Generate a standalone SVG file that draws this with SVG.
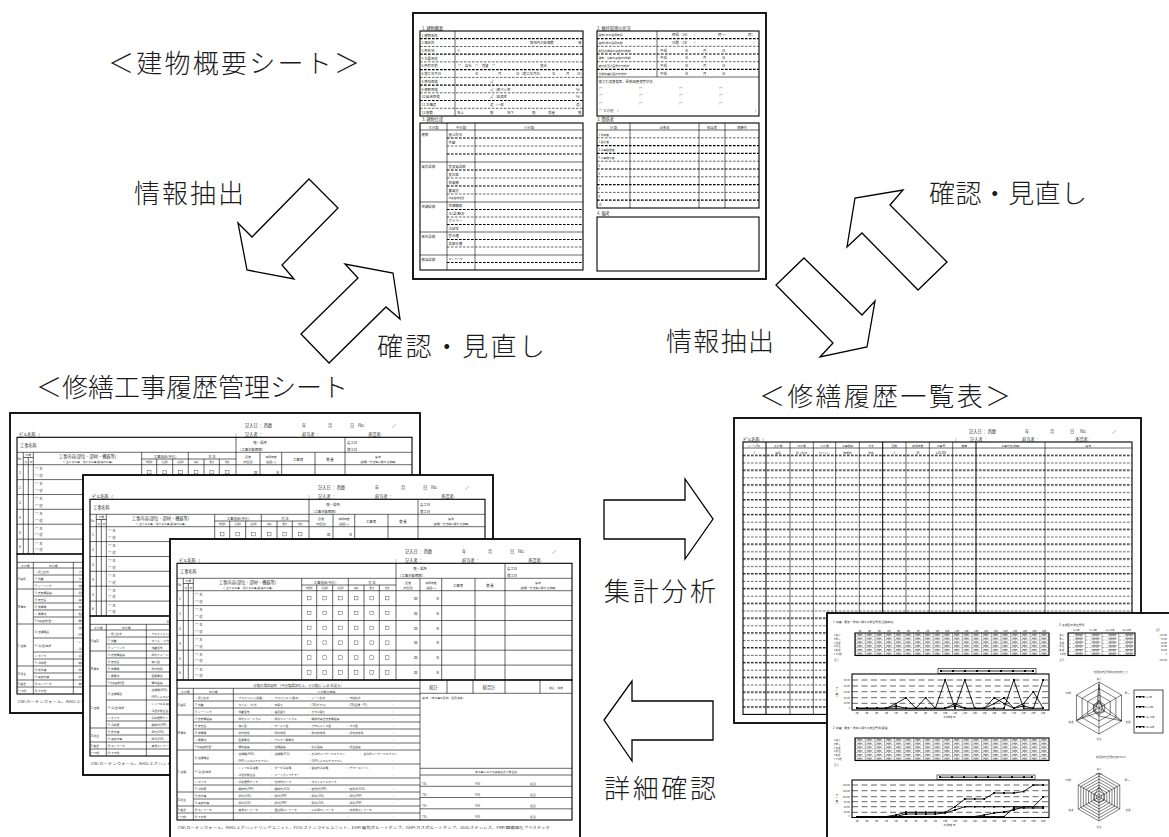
<svg xmlns="http://www.w3.org/2000/svg" width="1169" height="837" viewBox="0 0 1169 837">
<style>
.lbl{font-family:"Noto Sans CJK JP","Noto Sans",sans-serif;font-size:26px;font-weight:300;fill:#1a1a1a}
.t{font-family:"Noto Sans CJK JP","Noto Sans",sans-serif;font-size:4.2px;fill:#333}
.s{font-size:3.4px}
.xs{font-size:2.8px}
.xxs{font-size:2.1px}
.c{text-anchor:middle}
.e{text-anchor:end}
.fr{fill:#fff;stroke:#000;stroke-width:1.8}
.bx{fill:none;stroke:#000;stroke-width:1.1}
.ln{fill:none;stroke:#000;stroke-width:0.6}
.lk{fill:none;stroke:#000;stroke-width:1}
.d1{fill:none;stroke:#000;stroke-width:0.6;stroke-dasharray:2.6 1.4}
.d2{fill:none;stroke:#000;stroke-width:1.2;stroke-dasharray:2.6 1.4}
.gd{fill:none;stroke:#000;stroke-width:0.6;stroke-dasharray:6 3.5}
.arrow{fill:#fff;stroke:#000;stroke-width:1.3}
.cb{fill:none;stroke:#333;stroke-width:0.4}
.ser{fill:none;stroke:#000;stroke-width:0.9;marker-start:url(#mk);marker-mid:url(#mk);marker-end:url(#mk)}
.rd{fill:none;stroke:#000;stroke-width:0.5}
</style>
<defs>
<marker id="mk" markerUnits="userSpaceOnUse" markerWidth="2" markerHeight="2" refX="1" refY="1"><rect width="2" height="2" fill="#000"/></marker>
<pattern id="pRows" patternUnits="userSpaceOnUse" x="743" y="451.7" width="4" height="14.8"><rect x="0" y="3.1" width="2.6" height="1.2"/><rect x="0" y="10.8" width="2.6" height="0.6"/></pattern>
<pattern id="pCell" patternUnits="userSpaceOnUse" x="855" y="633" width="9.7" height="3.75"><rect x="0" y="0" width="0.35" height="3.75"/><rect x="0.9" y="3.45" width="1.8" height="0.5"/><rect x="3.9" y="3.45" width="1.8" height="0.5"/><rect x="6.9" y="3.45" width="1.8" height="0.5"/><rect x="2.2" y="1.2" width="5" height="1.1" fill="#555"/></pattern>
<pattern id="pCell3" patternUnits="userSpaceOnUse" x="1068" y="633" width="16.75" height="3.75"><rect x="0" y="0" width="0.35" height="3.75"/><rect x="1" y="3.45" width="2" height="0.5"/><rect x="4.5" y="3.45" width="2" height="0.5"/><rect x="8" y="3.45" width="2" height="0.5"/><rect x="11.5" y="3.45" width="2" height="0.5"/><rect x="7" y="1.2" width="8" height="1.1" fill="#555"/></pattern>
<g id="rr">
<text class="t s" x="25" y="5.8">□ 主</text>
<text class="t s" x="25" y="12.3">□ 従</text>
<rect class="cb" x="137.4" y="5.6" width="3.6" height="3.6"/>
<rect class="cb" x="152.9" y="5.6" width="3.6" height="3.6"/>
<rect class="cb" x="168.7" y="5.6" width="3.6" height="3.6"/>
<rect class="cb" x="184.4" y="5.6" width="3.6" height="3.6"/>
<rect class="cb" x="199.9" y="5.6" width="3.6" height="3.6"/>
<rect class="cb" x="215.4" y="5.6" width="3.6" height="3.6"/>
<text class="t s" y="9"><tspan x="244">回</tspan><tspan x="266">年</tspan></text>
</g>
<g id="rs">
<rect class="fr" x="0" y="0" width="410" height="300"/>
<text class="t" y="13.5"><tspan x="235">記入日 ： 西暦</tspan><tspan x="292">年</tspan><tspan x="318">月</tspan><tspan x="340">日</tspan><tspan x="348">No.</tspan><tspan x="382">／</tspan></text>
<text class="t" y="22.5"><tspan x="9">ビル名称（</tspan><tspan x="225">）</tspan><tspan x="235">記入者 ：</tspan><tspan x="292">担当者 ：</tspan><tspan x="358">承認者:</tspan></text>
<rect class="bx" x="7" y="24.3" width="395" height="116.7"/>
<path class="ln" d="M7 39.3H402M7 51.7H402M226 24.3V141M335 24.3V141M13.3 39.3V141M18.3 44.5V141M23.3 39.3V141M131.7 39.3V141M178.3 39.3V141M250 39.3V141M271.7 39.3V141M305 39.3V141M146.7 46V141M162.7 46V141M194 46V141M209.3 46V141M13.3 44.5H23.3M131.7 46H226M7 66.6H402M7 81.5H402M7 96.3H402M7 111.2H402M7 126.1H402"/>
<text class="t" x="10" y="33.5">工事名称</text>
<text class="t s c" x="250" y="30.5">階・場所</text>
<text class="t s" x="228" y="37.5">（工事対象範囲）</text>
<text class="t s" x="337" y="30.5">着工日</text>
<text class="t s" x="337" y="37.5">竣工日</text>
<text class="t xs" x="7.6" y="47">No.</text>
<text class="t xs c" x="18.3" y="43.3">分類</text>
<text class="t xs c" y="50.3"><tspan x="15.8">大</tspan><tspan x="20.8">中</tspan></text>
<text class="t c" x="77.5" y="44.5">工事内容(部位・部材・機器等)</text>
<text class="t xs c" x="77.5" y="49.8">※ 主たる工事／従たる工事(是連れ工事)</text>
<text class="t s c" x="155" y="44.6">工事理由(劣化)</text>
<text class="t xxs c" y="50.3"><tspan x="139.2">物理的</tspan><tspan x="154.7">社会的</tspan><tspan x="170.5">複合的</tspan><tspan x="186.2">修繕</tspan><tspan x="201.7">更新</tspan><tspan x="217.2">改修</tspan></text>
<text class="t s c" x="202" y="44.6">方 法</text>
<text class="t xs c" y="44.5"><tspan x="238">回 数</tspan><tspan x="261">使用年数</tspan><tspan x="368">備 考</tspan></text>
<text class="t xs c" y="50"><tspan x="238">(何回目)</tspan><tspan x="261">(設置～)</tspan><tspan x="368">(動機・方法等に関する詳細)</tspan></text>
<text class="t s c" y="47.5"><tspan x="288">工事費</tspan><tspan x="320">数 量</tspan></text>
<use href="#rr" y="51.7"/><use href="#rr" y="66.6"/><use href="#rr" y="81.5"/><use href="#rr" y="96.3"/><use href="#rr" y="111.2"/><use href="#rr" y="126.1"/>
<text class="t s"><tspan x="9" y="61">1</tspan><tspan x="9" y="75.9">2</tspan><tspan x="9" y="90.8">3</tspan><tspan x="9" y="105.6">4</tspan><tspan x="9" y="120.5">5</tspan><tspan x="9" y="135.4">6</tspan></text>
<rect class="bx" x="7" y="141" width="395" height="140"/>
<path class="ln" d="M7 149.3H250M7 155H250M250 141V281M23.3 149.3V281M63.3 149.3V281M7 176H250M7 211H250M7 253H250M7 267H250M7 274H250M23.3 162H250M23.3 169H250M23.3 183H250M23.3 190H250M23.3 197H250M23.3 204H250M23.3 225H250M23.3 239H250M23.3 246H250M23.3 260H250M277 141V154.3M303 141V154.3M335 141V154.3M370 141V154.3M250 154.3H402M250 229.3H402M250 236H402M250 247.3H402M250 258.5H402M250 269.8H402"/>
<text class="t s c" x="128.5" y="147.6">分類の選択項目 （中分類選択の上、小分類に レ点 を記入）</text>
<text class="t xs c" y="153.8"><tspan x="15.3">大分類</tspan><tspan x="43.3">中分類</tspan><tspan x="156.7">小分類(仕様等)</tspan></text>
<text class="t c" y="150.3"><tspan x="263.5">総計</tspan><tspan x="319">総合計</tspan></text>
<text class="t xs c" x="386" y="149.5">税込／税抜</text>
<text class="t xs" x="252" y="159.5">備 考 （本工事の目的、留意点等）</text>
<text class="t xs c" x="326" y="234.3">本工事における連絡先及び発注先</text>
<text class="t xs"><tspan x="252" y="245.5">TEL:</tspan><tspan x="305" y="245.5">FAX:</tspan><tspan x="360" y="245.5">担当:</tspan><tspan x="252" y="256.8">TEL:</tspan><tspan x="305" y="256.8">FAX:</tspan><tspan x="360" y="256.8">担当:</tspan><tspan x="252" y="268">TEL:</tspan><tspan x="305" y="268">FAX:</tspan><tspan x="360" y="268">担当:</tspan><tspan x="252" y="279.3">TEL:</tspan><tspan x="305" y="279.3">FAX:</tspan><tspan x="360" y="279.3">担当:</tspan></text>
<text class="t xs"><tspan x="8" y="167">A 建築</tspan><tspan x="8" y="195">B 電気</tspan><tspan x="8" y="233.5">C 空調</tspan><tspan x="8" y="261.5">D 衛生</tspan><tspan x="8" y="271.9">E 搬送</tspan><tspan x="8" y="278.9" font-size="2.2">F その他</tspan></text>
<text class="t xs"><tspan x="24.5" y="160.3">① 屋上防水</tspan><tspan x="24.5" y="167.3">② 外壁</tspan><tspan x="24.5" y="174.3">③ シーリング</tspan><tspan x="24.5" y="181.3">④ 受変電設備</tspan><tspan x="24.5" y="188.3">⑤ 変圧器</tspan><tspan x="24.5" y="195.3">⑥ 発電機</tspan><tspan x="24.5" y="202.3">⑦ 蓄電池</tspan><tspan x="24.5" y="209.3" font-size="2.3">⑧ 中央監視装置*</tspan><tspan x="24.5" y="219.8">⑨ 空調機器</tspan><tspan x="24.5" y="233.8">⑩ 冷(温)熱源</tspan><tspan x="24.5" y="244.3">⑪ ボイラ</tspan><tspan x="24.5" y="251.3">⑫ 冷却塔</tspan><tspan x="24.5" y="258.3">⑬ 受水槽</tspan><tspan x="24.5" y="265.3">⑭ 高架水槽</tspan><tspan x="24.5" y="272.3">⑮ エレベータ</tspan><tspan x="24.5" y="279.3">⑯ その他</tspan></text>
<g class="t xs">
<text y="160.3"><tspan x="65">□ アスファルト(保護)</tspan><tspan x="101">□ アスファルト(露出)</tspan><tspan x="138">□ シート防水</tspan><tspan x="176">□ 塗膜防水</tspan><tspan x="222">□</tspan></text>
<text y="167.3"><tspan x="65">□ タイル □ 吹付</tspan><tspan x="101">□ 石張り</tspan><tspan x="138">□ CW(ガラス)</tspan><tspan x="176">□ CW(金属・PC)</tspan><tspan x="222">□</tspan></text>
<text y="174.3"><tspan x="65">□ 外壁目地</tspan><tspan x="101">□ 建具廻り</tspan><tspan x="138">□ ガラス廻り</tspan><tspan x="222">□</tspan></text>
<text y="181.3"><tspan x="65">□ 屋内キュービクル</tspan><tspan x="101">□ 屋外キュービクル</tspan><tspan x="138">□ 開放式高圧受変電設備</tspan><tspan x="222">□</tspan></text>
<text y="188.3"><tspan x="65">□ 油入型</tspan><tspan x="101">□ モールド型</tspan><tspan x="138">□ アモルファス型</tspan><tspan x="176">□ ガス型</tspan><tspan x="222">□</tspan></text>
<text y="195.3"><tspan x="65">□ 屋内常用</tspan><tspan x="101">□ 屋外常用</tspan><tspan x="138">□ 屋内非常用</tspan><tspan x="176">□ 屋外非常用</tspan><tspan x="222">□</tspan></text>
<text y="202.3"><tspan x="65">□ 鉛蓄電池</tspan><tspan x="101">□ アルカリ蓄電池</tspan><tspan x="222">□</tspan></text>
<text y="209.3"><tspan x="65">□ 電気設備</tspan><tspan x="101">□ 空調設備</tspan><tspan x="138">□ 防災設備</tspan><tspan x="176">□ 衛生設備</tspan><tspan x="222">□</tspan></text>
<text y="216.3"><tspan x="65">□ 空調機(AHU)</tspan><tspan x="101">□ 空調機(FCU)</tspan><tspan x="138">□ 水冷式パッケージエアコン</tspan><tspan x="190">□ 空冷式パッケージエアコン</tspan></text>
<text y="223.3"><tspan x="65">□ EHPビルマルチエアコン</tspan><tspan x="138">□ GHPビルマルチエアコン</tspan><tspan x="222">□</tspan></text>
<text y="230.3"><tspan x="65">□ レシプロ冷凍機</tspan><tspan x="101">□ ターボ冷凍機</tspan><tspan x="138">□ 吸収式冷凍機</tspan><tspan x="176">□ チラーユニット</tspan><tspan x="222">□</tspan></text>
<text y="237.3"><tspan x="65">□ 冷温水発生器</tspan><tspan x="101">□ ヒートポンプチラー</tspan><tspan x="222">□</tspan></text>
<text y="244.3"><tspan x="65">□ 炉筒煙管ボイラ</tspan><tspan x="101">□ 貫流式ボイラ</tspan><tspan x="138">□ セクショナルボイラ</tspan></text>
<text y="251.3"><tspan x="65">□ 開放式(FRP)</tspan><tspan x="101">□ 開放式(SUS)</tspan><tspan x="138">□ 密閉式(FRP)</tspan><tspan x="176">□ 密閉式(SUS)</tspan><tspan x="222">□</tspan></text>
<text y="258.3"><tspan x="65">□ 屋内(SUS)</tspan><tspan x="101">□ 屋内(FRP)</tspan><tspan x="138">□ 屋外(SUS)</tspan><tspan x="176">□ 屋外(FRP)</tspan><tspan x="222">□</tspan></text>
<text y="265.3"><tspan x="65">□ 屋内(SUS)</tspan><tspan x="101">□ 屋内(FRP)</tspan><tspan x="138">□ 屋外(SUS)</tspan><tspan x="176">□ 屋外(FRP)</tspan><tspan x="222">□</tspan></text>
<text y="272.3"><tspan x="65">□ 乗用エレベータ</tspan><tspan x="101">□ 寝台用エレベータ</tspan><tspan x="138">□ 人荷用エレベータ</tspan><tspan x="176">□ 非常用エレベータ</tspan><tspan x="222">□</tspan></text>
<text y="279.3"><tspan x="65">□</tspan><tspan x="101">□</tspan><tspan x="138">□</tspan><tspan x="176">□</tspan><tspan x="222">□</tspan></text>
</g>
<text class="t s" x="8" y="290" textLength="372" lengthAdjust="spacingAndGlyphs">CW:カーテンウォール、AHU:エアハンドリングユニット、FCU:ファンコイルユニット、EHP:電気式ヒートポンプ、GHP:ガス式ヒートポンプ、SUS:ステンレス、FRP:繊維強化プラスチック</text>
</g>
</defs>

<rect width="1169" height="837" fill="#fff"/>

<!-- Building overview sheet -->
<g id="sheet-building-overview">
<text class="lbl" x="108" y="73" font-size="27" textLength="252" lengthAdjust="spacing">＜建物概要シート＞</text>
<rect class="fr" x="413" y="13" width="353" height="266" stroke-width="2"/>
<text class="t" x="422" y="29.5">1. 建物概要</text>
<rect class="bx" x="420" y="31" width="163" height="85"/>
<path class="ln" d="M455 31V116"/>
<path class="d2" d="M420 38.7H583M420 54.2H583M420 69.6H583M420 85.1H583M420 100.5H583"/>
<path class="d1" d="M420 46.5H583M420 61.9H583M420 77.4H583M420 92.8H583M420 108.3H583"/>
<text class="t s"><tspan x="421.5" y="36.5">1 建物名称</tspan><tspan x="421.5" y="44.2">2 棟名称</tspan><tspan x="421.5" y="52">3 所在地</tspan><tspan x="421.5" y="59.7">4 主要用途</tspan><tspan x="421.5" y="67.4">5 所有形態</tspan><tspan x="421.5" y="75.1">6 竣工年月日</tspan><tspan x="421.5" y="82.9">8 敷地面積</tspan><tspan x="421.5" y="90.6">9 建築面積</tspan><tspan x="421.5" y="98.3">10 延床面積</tspan><tspan x="421.5" y="106">11 主構造</tspan><tspan x="421.5" y="113.8">12 階数</tspan></text>
<text class="t s"><tspan x="530" y="44.2">敷地内の総棟数</tspan><tspan x="578" y="44.2">棟</tspan><tspan x="457" y="52">〒</tspan><tspan x="458" y="67.4">□　自社　□　賃貸　□</tspan><tspan x="540" y="67.4">混合</tspan><tspan x="475" y="75.1">年</tspan><tspan x="498" y="75.1">月</tspan><tspan x="516" y="75.1">日（竣工年月日:</tspan><tspan x="552" y="75.1">年</tspan><tspan x="566" y="75.1">月</tspan><tspan x="577" y="75.1">日)</tspan><tspan x="490" y="82.9">㎡</tspan><tspan x="490" y="90.6">㎡（建ぺい率</tspan><tspan x="576" y="90.6">%)</tspan><tspan x="490" y="98.3">㎡（容積率</tspan><tspan x="576" y="98.3">%)</tspan><tspan x="490" y="106">造（一部</tspan><tspan x="576" y="106">造)</tspan><tspan x="457" y="113.8">地上</tspan><tspan x="490" y="113.8">階</tspan><tspan x="507" y="113.8">地下</tspan><tspan x="532" y="113.8">階</tspan><tspan x="548" y="113.8">塔屋</tspan><tspan x="578" y="113.8">階</tspan></text>
<text class="t" x="597" y="29.5">2. 維持管理の状況</text>
<rect class="bx" x="597" y="31" width="162" height="85"/>
<path class="ln" d="M657 31V77M597 77H759"/>
<path class="d2" d="M597 38.7H759M597 54H759M597 69.3H759"/>
<path class="d1" d="M597 46.3H759M597 61.7H759"/>
<text class="t xs"><tspan x="598.5" y="36.3">建物1日の運用時間</tspan><tspan x="598.5" y="44">建物1年の運用日数</tspan><tspan x="598.5" y="51.6">前回点検等の実施日(時期)</tspan><tspan x="598.5" y="59.3">調査・診断の実施日(時期)</tspan><tspan x="598.5" y="67">維持保全計画書の作成日</tspan><tspan x="598.5" y="74.6">長期修繕計画の作成日</tspan></text>
<text class="t s"><tspan x="672" y="36.3">時間／1日</tspan><tspan x="692" y="36.3">（</tspan><tspan x="718" y="36.3">時 ～</tspan><tspan x="748" y="36.3">時）</tspan><tspan x="672" y="44">日数／1年</tspan><tspan x="692" y="44">（</tspan><tspan x="753" y="44">）</tspan><tspan x="660" y="51.6">平成</tspan><tspan x="685" y="51.6">年</tspan><tspan x="703" y="51.6">月</tspan><tspan x="722" y="51.6">日</tspan><tspan x="660" y="59.3">平成</tspan><tspan x="685" y="59.3">年</tspan><tspan x="703" y="59.3">月</tspan><tspan x="722" y="59.3">日</tspan><tspan x="660" y="67">平成</tspan><tspan x="685" y="67">年</tspan><tspan x="703" y="67">月</tspan><tspan x="722" y="67">日</tspan><tspan x="660" y="74.6">平成</tspan><tspan x="685" y="74.6">年</tspan><tspan x="703" y="74.6">月</tspan><tspan x="722" y="74.6">日</tspan></text>
<text class="t s" x="598.5" y="82.8">竣工引渡書類等、関係図書保管状況</text>
<text class="t s"><tspan x="599" y="90">□</tspan><tspan x="639" y="90">□</tspan><tspan x="679" y="90">□</tspan><tspan x="719" y="90">□</tspan><tspan x="599" y="97.3">□</tspan><tspan x="639" y="97.3">□</tspan><tspan x="679" y="97.3">□</tspan><tspan x="719" y="97.3">□</tspan><tspan x="599" y="104.6">□</tspan><tspan x="639" y="104.6">□</tspan><tspan x="679" y="104.6">□</tspan><tspan x="719" y="104.6">□</tspan><tspan x="599" y="112">□ その他　（</tspan><tspan x="755" y="112">）</tspan></text>
<text class="t" x="422" y="121.3">3. 建物仕様</text>
<rect class="bx" x="420" y="123" width="163" height="147"/>
<path class="ln" d="M420 130H583M447 123V270M475 123V270M420 162H583M420 202H583M420 232H583M420 255H583"/>
<path class="d2" d="M447 138H583M447 154H583M447 170H583M447 186H583M447 209.5H583M447 224.5H583M447 239.5H583M447 262.5H583"/>
<path class="d1" d="M447 146H583M447 178H583M447 194H583M447 217H583M447 247H583"/>
<text class="t s c" y="128.5"><tspan x="433.5">大分類</tspan><tspan x="461">中分類</tspan><tspan x="529">小分類</tspan></text>
<text class="t s"><tspan x="421.5" y="135.5">建築</tspan><tspan x="421.5" y="167.5">電気設備</tspan><tspan x="421.5" y="207.5">空調設備</tspan><tspan x="421.5" y="237.5">衛生設備</tspan><tspan x="421.5" y="260.5">搬送設備</tspan></text>
<text class="t s"><tspan x="448.5" y="135.8">屋上防水</tspan><tspan x="448.5" y="143.6">外壁</tspan><tspan x="448.5" y="167.5">受変電設備</tspan><tspan x="448.5" y="175.5">変圧器</tspan><tspan x="448.5" y="183.5">発電機</tspan><tspan x="448.5" y="191.5">蓄電池</tspan><tspan x="448.5" y="199.3" font-size="2.6">中央監視装置</tspan><tspan x="448.5" y="207.3">空調機器</tspan><tspan x="448.5" y="214.8">冷(温)熱源</tspan><tspan x="448.5" y="222.3">ボイラー</tspan><tspan x="448.5" y="229.8">冷却塔</tspan><tspan x="448.5" y="237.3">受水槽</tspan><tspan x="448.5" y="244.8">高架水槽</tspan><tspan x="448.5" y="260.3" font-size="2.8">エレベータ</tspan></text>
<text class="t" x="597" y="121.3">3. 関係者</text>
<rect class="bx" x="597" y="123" width="162" height="85"/>
<path class="ln" d="M597 130H759M630 123V208M699 123V208M725 123V208"/>
<path class="d1" d="M597 137.8H759M597 161.2H759M597 176.8H759M597 192.4H759"/>
<path class="d2" d="M597 145.6H759M597 153.4H759M597 169H759M597 184.6H759M597 200.2H759"/>
<text class="t s c" y="128.5"><tspan x="613.5">分 類</tspan><tspan x="664.5">企業名</tspan><tspan x="712">担当者</tspan><tspan x="742">連絡先</tspan></text>
<text class="t xs"><tspan x="598.5" y="135.5">1 所有者</tspan><tspan x="598.5" y="143.3">2 設計者</tspan><tspan x="598.5" y="151.1">3 工事監理者</tspan><tspan x="598.5" y="158.9">4 工事施工者</tspan><tspan x="598.5" y="166.7">5</tspan><tspan x="598.5" y="174.5">6</tspan><tspan x="598.5" y="182.3">7</tspan><tspan x="598.5" y="190.1">8</tspan><tspan x="598.5" y="197.9">9</tspan><tspan x="598.5" y="205.7">10</tspan></text>
<text class="t" x="597" y="214.8">4. 備考</text>
<rect class="bx" x="597" y="217" width="162" height="54"/>
</g>

<!-- Repair history management sheets -->
<g id="sheet-repair-management">
<text class="lbl" x="36" y="397" font-size="26.5" textLength="312" lengthAdjust="spacing">＜修繕工事履歴管理シート</text>
<g id="sheet-repair-1"><use href="#rs" x="10" y="413"/></g>
<g id="sheet-repair-2"><use href="#rs" x="83" y="475"/></g>
<g id="sheet-repair-3"><use href="#rs" x="170" y="539"/></g>
</g>

<!-- Repair history list -->
<g id="sheet-repair-list">
<text class="lbl" x="759" y="406" font-size="24.5" textLength="252" lengthAdjust="spacing">＜修繕履歴一覧表＞</text>
<rect class="fr" x="734" y="418" width="407" height="305"/>
<text class="t" y="433"><tspan x="969">記入日 ： 西暦</tspan><tspan x="1025">年</tspan><tspan x="1050">月</tspan><tspan x="1070">日</tspan><tspan x="1080">No.</tspan><tspan x="1112">／</tspan></text>
<text class="t" y="440.5"><tspan x="743">ビル名称（</tspan><tspan x="955">）</tspan><tspan x="970">記入者 ：</tspan><tspan x="1022">担当者 ：</tspan><tspan x="1075">承認者:</tspan></text>
<rect fill="url(#pRows)" x="743" y="449" width="389" height="264"/>
<rect class="bx" x="743" y="442" width="389" height="272.4"/>
<path class="ln" d="M743 448H1132M790 442V714.4M813.3 442V714.4M835.7 442V714.4M859.3 442V714.4M906 442V714.4M929.3 442V714.4M952.7 442V714.4M1045 442V714.4"/>
<path class="lk" d="M766 442V714.4M882.7 442V714.4M976 442V714.4"/>
<text class="t xs c" y="446.6"><tspan x="754.3">シートNo.</tspan><tspan x="778">大分類</tspan><tspan x="801.7">中分類</tspan><tspan x="824.5">小分類</tspan><tspan x="847.5">工事理由</tspan><tspan x="871">方法</tspan><tspan x="894.3">回数</tspan><tspan x="917.7">使用年数</tspan><tspan x="941">工事費</tspan><tspan x="964.3">数量</tspan><tspan x="1010.5">工事内容(詳細)</tspan><tspan x="1088.3">備 考</tspan></text>
<text class="t xs c" y="453.6"><tspan x="754.3">1</tspan><tspan x="778">建築</tspan><tspan x="801.7">屋上防水</tspan><tspan x="824.5" font-size="2">アスファルト</tspan><tspan x="847.5">物理的</tspan><tspan x="871">改修</tspan><tspan x="894.3">1</tspan><tspan x="917.7">30</tspan><tspan x="941">¥10,000</tspan></text>
</g>

<!-- Analysis charts sheet -->
<g id="sheet-charts">
<rect class="fr" x="827" y="613" width="345" height="230" stroke-width="2"/>
<text class="t xs" x="833" y="623">1. 修繕・更新・改修に関する発生費用(当該年度)</text>
<rect fill="url(#pCell)" x="855" y="633" width="194" height="22.5"/>
<rect class="bx" x="855" y="633" width="194" height="22.5"/>
<text class="t xxs"><tspan x="834" y="636.2">A 建 築</tspan><tspan x="834" y="639.9">B 電 気</tspan><tspan x="834" y="643.7">C 空 調</tspan><tspan x="834" y="647.4">D 衛 生</tspan><tspan x="834" y="651.2">E 搬 送</tspan><tspan x="834" y="654.9">F その他</tspan><tspan x="834" y="660.5">合 計</tspan></text>
<text class="t xxs c" y="631.5"><tspan x="859.8">1年</tspan><tspan x="869.5">2年</tspan><tspan x="879.2">3年</tspan><tspan x="888.9">4年</tspan><tspan x="898.6">5年</tspan><tspan x="908.3">6年</tspan><tspan x="918">7年</tspan><tspan x="927.7">8年</tspan><tspan x="937.4">9年</tspan><tspan x="947.1">10年</tspan><tspan x="956.8">11年</tspan><tspan x="966.5">12年</tspan><tspan x="976.2">13年</tspan><tspan x="985.9">14年</tspan><tspan x="995.6">15年</tspan><tspan x="1005.3">16年</tspan><tspan x="1015">17年</tspan><tspan x="1024.7">18年</tspan><tspan x="1034.4">19年</tspan><tspan x="1044.1">20年</tspan></text>
<rect x="938" y="668.5" width="98" height="5" fill="#fff" stroke="#000" stroke-width="0.6"/>
<polyline class="ser" points="941,671 953,671 965,671 977,671 989,671 1001,671 1013,671 1025,671 1033,671"/>
<rect class="bx" x="852" y="674" width="197" height="36" stroke-width="1.2"/>
<path class="gd" d="M852 680H1049M852 686H1049M852 691.7H1049M852 697.7H1049M852 703.3H1049"/>
<text class="t xxs e"><tspan x="850" y="680.8">60,000</tspan><tspan x="850" y="686.8">50,000</tspan><tspan x="850" y="692.5">40,000</tspan><tspan x="850" y="698.5">30,000</tspan><tspan x="850" y="704.1">20,000</tspan><tspan x="850" y="709.1">0</tspan></text>
<text class="t xxs c" transform="translate(838 692) rotate(-90)">金額 (千円)</text>
<polyline class="ser" points="857,708.3 866.8,708.3 876.6,708.3 886.4,708.3 896.2,708.3 906,708.3 915.8,708.3 925.6,708.3 935.4,708.3 945.2,680 955,708.3 964.8,680 974.6,708.3 984.4,708.3 994.2,708.3 1004,708.3 1013.8,680 1023.6,708.3 1033.4,708.3 1043.2,680"/>
<polyline class="ser" points="857,708.3 866.8,708.3 876.6,708.3 886.4,708.3 896.2,703.5 906,697.7 915.8,708.3 925.6,697.7 935.4,708.3 945.2,708.3 955,703.5 964.8,708.3 974.6,708.3 984.4,708.3 994.2,697.7 1004,703.5 1013.8,708.3 1023.6,703.5 1033.4,691.7 1043.2,708.3"/>
<polyline class="ser" points="857,708.3 866.8,708.3 876.6,708.3 886.4,708.3 896.2,706 906,708.3 915.8,708.3 925.6,708.3 935.4,708.3 945.2,708.3 955,706 964.8,708.3 974.6,708.3 984.4,708.3 994.2,703.5 1004,697.7 1013.8,708.3 1023.6,706 1033.4,708.3 1043.2,708.3"/>
<text class="t xxs c" y="713.5"><tspan x="857">1年</tspan><tspan x="866.8">2年</tspan><tspan x="876.6">3年</tspan><tspan x="886.4">4年</tspan><tspan x="896.2">5年</tspan><tspan x="906">6年</tspan><tspan x="915.8">7年</tspan><tspan x="925.6">8年</tspan><tspan x="935.4">9年</tspan><tspan x="945.2">10年</tspan><tspan x="955">11年</tspan><tspan x="964.8">12年</tspan><tspan x="974.6">13年</tspan><tspan x="984.4">14年</tspan><tspan x="994.2">15年</tspan><tspan x="1004">16年</tspan><tspan x="1013.8">17年</tspan><tspan x="1023.6">18年</tspan><tspan x="1033.4">19年</tspan><tspan x="1043.2">20年</tspan></text>
<text class="t xxs c" x="950" y="717.8">経過年数 (年)</text>
<text class="t xs" x="833" y="729">2. 修繕・更新・改修に関する発生費用(累積)</text>
<rect fill="url(#pCell)" x="855" y="738" width="194" height="22.5"/>
<rect class="bx" x="855" y="738" width="194" height="22.5"/>
<text class="t xxs"><tspan x="834" y="741.2">A 建 築</tspan><tspan x="834" y="744.9">B 電 気</tspan><tspan x="834" y="748.7">C 空 調</tspan><tspan x="834" y="752.4">D 衛 生</tspan><tspan x="834" y="756.2">E 搬 送</tspan><tspan x="834" y="759.9">F その他</tspan><tspan x="834" y="765.5">合 計</tspan></text>
<rect x="937" y="775" width="98" height="4.5" fill="#fff" stroke="#000" stroke-width="0.6"/>
<polyline class="ser" points="940,777.2 952,777.2 964,777.2 976,777.2 988,777.2 1000,777.2 1012,777.2 1024,777.2 1032,777.2"/>
<rect class="bx" x="852" y="780" width="197" height="37.5" stroke-width="1.2"/>
<path class="gd" d="M852 785H1049M852 790.7H1049M852 796.7H1049M852 801.7H1049M852 806.7H1049M852 812.3H1049"/>
<text class="t xxs e"><tspan x="850" y="785.8">140,000</tspan><tspan x="850" y="791.5">120,000</tspan><tspan x="850" y="797.5">100,000</tspan><tspan x="850" y="802.5">80,000</tspan><tspan x="850" y="807.5">60,000</tspan><tspan x="850" y="813.1">40,000</tspan><tspan x="850" y="817.3">0</tspan></text>
<text class="t xxs c" transform="translate(838 799) rotate(-90)">金額 (千円)</text>
<polyline class="ser" points="857,816.5 866.8,816.5 876.6,816.5 886.4,816.5 896.2,815 906,812.3 915.8,812.3 925.6,812.3 935.4,812.3 945.2,812.3 955,806.7 964.8,799 974.6,799 984.4,799 994.2,793 1004,793 1013.8,793 1023.6,791.5 1033.4,785 1043.2,785"/>
<polyline class="ser" points="857,816.5 866.8,816.5 876.6,816.5 886.4,816.5 896.2,816.5 906,814 915.8,814 925.6,814 935.4,814 945.2,813 955,810 964.8,806.7 974.6,806.7 984.4,806.7 994.2,806.7 1004,806.7 1013.8,806.7 1023.6,806.7 1033.4,806.7 1043.2,806.7"/>
<polyline class="ser" points="857,816.5 866.8,816.5 876.6,816.5 886.4,816.5 896.2,816.5 906,816.5 915.8,816.5 925.6,816.5 935.4,816.5 945.2,816.5 955,816.5 964.8,816.5 974.6,816.5 984.4,815 994.2,813 1004,812 1013.8,810 1023.6,806.7 1033.4,806.7 1043.2,797"/>
<polyline class="ser" points="857,816.5 866.8,816.5 876.6,816.5 886.4,816.5 896.2,816.5 906,816.5 915.8,816.5 925.6,816.5 935.4,816.5 945.2,816.5 955,816.5 964.8,816.5 974.6,816.5 984.4,816.5 994.2,816.5 1004,816.5 1013.8,808 1023.6,808 1033.4,808 1043.2,808"/>
<text class="t xxs c" y="822"><tspan x="857">1年</tspan><tspan x="866.8">2年</tspan><tspan x="876.6">3年</tspan><tspan x="886.4">4年</tspan><tspan x="896.2">5年</tspan><tspan x="906">6年</tspan><tspan x="915.8">7年</tspan><tspan x="925.6">8年</tspan><tspan x="935.4">9年</tspan><tspan x="945.2">10年</tspan><tspan x="955">11年</tspan><tspan x="964.8">12年</tspan><tspan x="974.6">13年</tspan><tspan x="984.4">14年</tspan><tspan x="994.2">15年</tspan><tspan x="1004">16年</tspan><tspan x="1013.8">17年</tspan><tspan x="1023.6">18年</tspan><tspan x="1033.4">19年</tspan><tspan x="1043.2">20年</tspan></text>
<text class="t xxs c" x="950" y="826">経過年数 (年)</text>
<text class="t xs" x="1059" y="625.5">3. 各項目の発生費用</text>
<rect fill="url(#pCell3)" x="1068" y="633" width="67" height="22.5"/>
<rect class="bx" x="1068" y="633" width="67" height="22.5"/>
<text class="t xxs c" y="631.3"><tspan x="1076.4">1～5年</tspan><tspan x="1093.1">6～10年</tspan><tspan x="1109.9">11～15年</tspan><tspan x="1126.6">16～20年</tspan><tspan x="1158">合計</tspan></text>
<text class="t xxs"><tspan x="1059.5" y="636.2">建 築</tspan><tspan x="1059.5" y="639.9">電 気</tspan><tspan x="1059.5" y="643.7">空 調</tspan><tspan x="1059.5" y="647.4">衛 生</tspan><tspan x="1059.5" y="651.2">搬 送</tspan><tspan x="1059.5" y="654.9">その他</tspan><tspan x="1059.5" y="660.5">合 計</tspan></text>
<text class="t xxs e"><tspan x="1167" y="636.2">110,000</tspan><tspan x="1167" y="639.9">70,000</tspan><tspan x="1167" y="643.7">10,000</tspan><tspan x="1167" y="647.4">10,000</tspan><tspan x="1167" y="651.2">20,000</tspan><tspan x="1167" y="654.9">0</tspan><tspan x="1167" y="660.5">220,000</tspan></text>
<text class="t xxs c" x="1111" y="672.5">各項目の発生費用の比較(各年度ごと)</text>
<g transform="translate(1099 708)">
<path class="rd" d="M0 -26L22.5 -13L22.5 13L0 26L-22.5 13L-22.5 -13ZM0 -19.5L16.9 -9.75L16.9 9.75L0 19.5L-16.9 9.75L-16.9 -9.75ZM0 -13L11.26 -6.5L11.26 6.5L0 13L-11.26 6.5L-11.26 -6.5ZM0 -6.5L5.63 -3.25L5.63 3.25L0 6.5L-5.63 3.25L-5.63 -3.25ZM0 -26V26M22.5 -13L-22.5 13M22.5 13L-22.5 -13"/>
<polygon class="rd" stroke-width="0.8" points="0,-24 2,-3 5,3 0,5 -4,3 -2,-3"/>
<polygon class="rd" stroke-width="0.8" points="0,-5 4,-2.5 23,13 0,8 -5,3 -5,-3"/>
<polygon class="rd" stroke-width="0.8" points="0,-8 3,-2 3,2 0,4 -22,12 -3,-2"/>
</g>
<text class="t xxs c"><tspan x="1099" y="679.5">建 築</tspan><tspan x="1127" y="694">電 気</tspan><tspan x="1128" y="723">空 調</tspan><tspan x="1099" y="740">衛 生</tspan><tspan x="1071" y="723">搬 送</tspan><tspan x="1068" y="694">その他</tspan></text>
<rect x="1134" y="690" width="29" height="43" fill="#fff" stroke="#000" stroke-width="0.7"/>
<polyline class="ser" points="1136.5,696.7 1140,696.7 1143.5,696.7"/>
<polyline class="ser" points="1136.5,706.7 1140,706.7 1143.5,706.7"/>
<polyline class="ser" points="1136.5,716.7 1140,716.7 1143.5,716.7"/>
<polyline class="ser" points="1136.5,726.7 1140,726.7 1143.5,726.7"/>
<text class="t xxs"><tspan x="1145.5" y="697.5">1～5年</tspan><tspan x="1145.5" y="707.5">6～10年</tspan><tspan x="1145.5" y="717.5">11～15年</tspan><tspan x="1145.5" y="727.5">16～20年</tspan></text>
<text class="t xxs c" x="1111" y="757.5">各項目の発生費用の比較(TOTAL)</text>
<g transform="translate(1099 797)">
<path class="rd" d="M0 -24L20.78 -12L20.78 12L0 24L-20.78 12L-20.78 -12ZM0 -21L18.19 -10.5L18.19 10.5L0 21L-18.19 10.5L-18.19 -10.5ZM0 -18L15.59 -9L15.59 9L0 18L-15.59 9L-15.59 -9ZM0 -15L12.99 -7.5L12.99 7.5L0 15L-12.99 7.5L-12.99 -7.5ZM0 -12L10.39 -6L10.39 6L0 12L-10.39 6L-10.39 -6ZM0 -9L7.79 -4.5L7.79 4.5L0 9L-7.79 4.5L-7.79 -4.5ZM0 -6L5.2 -3L5.2 3L0 6L-5.2 3L-5.2 -3ZM0 -3L2.6 -1.5L2.6 1.5L0 3L-2.6 1.5L-2.6 -1.5ZM0 -24V24M20.78 -12L-20.78 12M20.78 12L-20.78 -12"/>
<polygon class="rd" stroke-width="0.8" points="0,-10 5,-3 5,3 0,5 -5,3 -4,-3"/>
</g>
<text class="t xxs c"><tspan x="1099" y="770">建 築</tspan><tspan x="1127" y="781">電 気</tspan><tspan x="1128" y="811">空 調</tspan><tspan x="1099" y="828">衛 生</tspan><tspan x="1071" y="811">搬 送</tspan><tspan x="1068" y="781">その他</tspan><tspan x="1099" y="775">50,000</tspan></text>
</g>

<!-- Connectors -->
<g id="connectors">
<polygon id="arrow-extract-left" class="arrow" points="309,179 338,208 282,265 294,279 247,270 238,223 252,237"/>
<polygon id="arrow-review-left" class="arrow" points="301,334 358,278 345,264 393,273 400,319 386,307 329,363"/>
<polygon id="arrow-review-right" class="arrow" points="947,262 890,205 903,190 855,198 847,247 862,233 918,290"/>
<polygon id="arrow-extract-right" class="arrow" points="804,258 862,315 875,301 867,347 820,357 833,343 776,285"/>
<polygon id="arrow-aggregate" class="arrow" points="604,500 685,500 685,479 713,519 685,559 685,539 604,539"/>
<polygon id="arrow-detail" class="arrow" points="713,701 632,701 632,681 604,720 632,761 632,740 713,740"/>
<text class="lbl" x="134" y="203" font-size="27" textLength="110" lengthAdjust="spacing">情報抽出</text>
<text class="lbl" x="377" y="356" font-size="25" textLength="168" lengthAdjust="spacing">確認・見直し</text>
<text class="lbl" x="666" y="351" font-size="25" textLength="108" lengthAdjust="spacing">情報抽出</text>
<text class="lbl" x="929" y="203" font-size="25" textLength="158" lengthAdjust="spacing">確認・見直し</text>
<text class="lbl" x="604" y="601" font-size="26" textLength="112" lengthAdjust="spacing">集計分析</text>
<text class="lbl" x="604" y="798" font-size="26" textLength="112" lengthAdjust="spacing">詳細確認</text>
</g>
</svg>
